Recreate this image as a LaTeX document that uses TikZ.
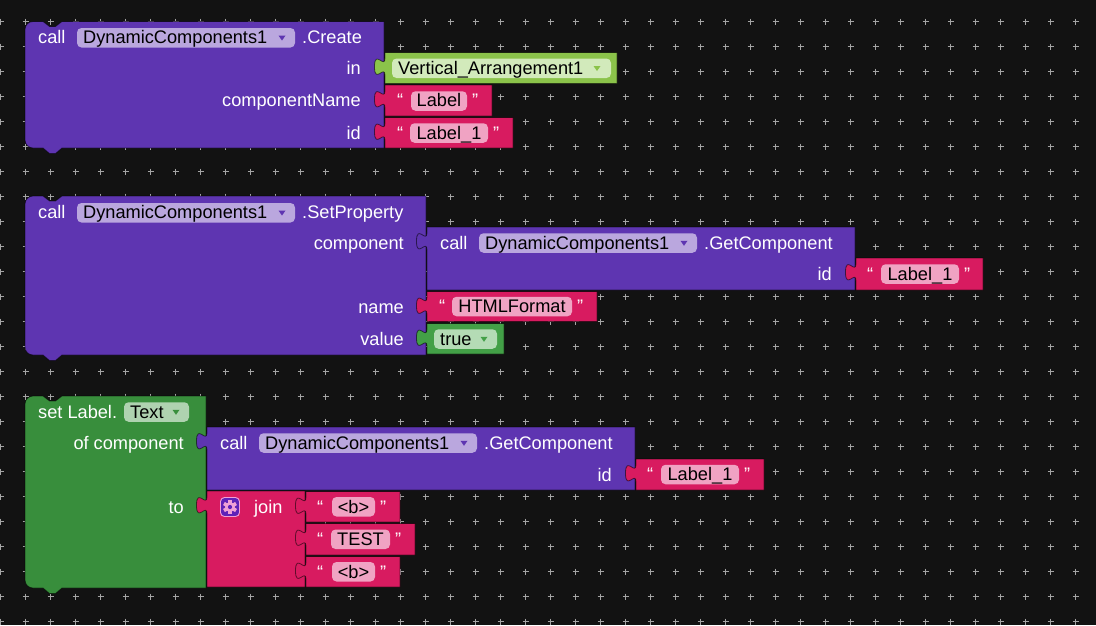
\documentclass[tikz,border=0pt]{standalone}
\usepackage{fontspec}
\setmainfont{Liberation Sans}
\definecolor{cbg}{HTML}{121212}
\definecolor{cdot}{HTML}{A4A4A4}
\definecolor{cpurple}{HTML}{5E35B1}
\definecolor{cppill}{HTML}{BAA7DE}
\definecolor{cpink}{HTML}{D81B60}
\definecolor{cpkpill}{HTML}{F0A3C3}
\definecolor{clgreen}{HTML}{8BC34A}
\definecolor{clgpill}{HTML}{D2EABB}
\definecolor{cgreen}{HTML}{388E3C}
\definecolor{cgpill}{HTML}{AFD2B0}
\definecolor{cgreen2}{HTML}{43A047}
\definecolor{cg2pill}{HTML}{B4DBB5}
\definecolor{cgearbox}{HTML}{5E22B8}
\definecolor{cgear}{HTML}{EFA0D6}
\newcommand\blkfont{\fontsize{18.2}{22}\selectfont}
\tikzset{
  blockedge/.style={draw=black, draw opacity=0.55, line width=0.8pt},
  wt/.style={text=white, font=\blkfont, inner sep=0pt},
  bt/.style={text=black, font=\blkfont, inner sep=0pt},
}
% statement block: color, x1, y1, x2, y2
\newcommand\stmtblk[5]{%
  \filldraw[fill=#1, blockedge] (#2,#3+8) .. controls (#2,#3+3.6) and (#2+3.6,#3) .. (#2+8,#3)
   -- (#2+18,#3) -- (#2+24.5,#3+5) -- (#2+30.5,#3+5) -- (#2+37,#3) -- (#4,#3) -- (#4,#5)
   -- (#2+37,#5) -- (#2+30.5,#5+5.5) -- (#2+24.5,#5+5.5) -- (#2+18,#5) -- (#2+8,#5)
   .. controls (#2+3.6,#5) and (#2,#5-3.6) .. (#2,#5-8) -- cycle;}
% value block with puzzle tab: color, x1, y1, x2, y2
\newcommand\valblk[5]{%
  \filldraw[fill=#1, blockedge] (#2,#3) -- (#4,#3) -- (#4,#5) -- (#2,#5) -- (#2,#3+23)
   .. controls (#2,#3+11.3) and (#2-10.5,#3+32.3) .. (#2-10.5,#3+14.25)
   .. controls (#2-10.5,#3-3.8) and (#2,#3+17.2) .. (#2,#3+5.5) -- cycle;}
% pill: color, x1, y1, x2, y2
\newcommand\pillbox[5]{\fill[#1, rounded corners=4.5pt] (#2,#3) rectangle (#4,#5);}
% dropdown triangle: color, x, y
\newcommand\ddtri[3]{\fill[#1] (#2-3.5,#3-2.2) -- (#2+3.5,#3-2.2) -- (#2,#3+2.8) -- cycle;}
\begin{document}
\begin{tikzpicture}[x=1pt, y=-1pt]
\useasboundingbox (0,0) rectangle (1096,625);
\fill[cbg] (0,0) rectangle (1096,625);
% grid of crosses
\foreach \i in {0,...,43}{
  \foreach \j in {0,...,24}{
    \draw[cdot, line width=1.5pt] (0.7+25*\i-3, 21.7+25*\j) -- ++(6,0)
      (0.7+25*\i, 21.7+25*\j-3) -- ++(0,6);
  }
}
% ================= Block 1 =================
\stmtblk{cpurple}{25}{21.5}{384}{148}
\valblk{clgreen}{385}{52.5}{617}{83.5}
\valblk{cpink}{385}{85}{492}{116}
\valblk{cpink}{385}{117.5}{513}{148}
\node[wt, anchor=base west] (b1call) at (38,43.8) {call};
\pillbox{cppill}{77}{28}{295}{47.5}
\node[bt, anchor=base west] (b1comp) at (83,43.8) {DynamicComponents1};
\ddtri{cpurple}{282}{37.75}
\node[wt, anchor=base west] (b1create) at (302,43.8) {.Create};
\node[wt, anchor=base east] (b1in) at (361,74.3) {in};
\node[wt, anchor=base east] (b1cn) at (361,106.8) {componentName};
\node[wt, anchor=base east] (b1id) at (361,139.3) {id};
\pillbox{clgpill}{392}{58.5}{611}{78}
\node[bt, anchor=base west] (b1va) at (398,74.5) {Vertical\_Arrangement1};
\ddtri{clgreen}{597}{68.2}
\node[wt, anchor=base west] (b1q1) at (397,106.8) {“};
\pillbox{cpkpill}{411}{91.25}{467}{110.75}
\node[bt, anchor=base] (b1label) at (439,106.8) {Label};
\node[wt, anchor=base west] (b1q2) at (472,106.8) {”};
\node[wt, anchor=base west] (b1q3) at (397,139.3) {“};
\pillbox{cpkpill}{410}{123.25}{488}{142.75}
\node[bt, anchor=base] (b1label1) at (449,139.3) {Label\_1};
\node[wt, anchor=base west] (b1q4) at (493,139.3) {”};
% ================= Block 2 =================
\stmtblk{cpurple}{25}{196}{426}{355}
\valblk{cpurple}{427}{227}{855}{290}
\valblk{cpink}{856}{258}{983}{290}
\valblk{cpink}{427}{291.5}{597}{321.5}
\valblk{cgreen2}{427}{323.5}{504}{354}
\node[wt, anchor=base west] (b2call) at (38,218.8) {call};
\pillbox{cppill}{77}{203}{295}{222.5}
\node[bt, anchor=base west] (b2comp) at (83,218.8) {DynamicComponents1};
\ddtri{cpurple}{282}{212.75}
\node[wt, anchor=base west] (b2set) at (302,218.8) {.SetProperty};
\node[wt, anchor=base east] (b2component) at (404,249.3) {component};
\node[wt, anchor=base east] (b2name) at (404,313) {name};
\node[wt, anchor=base east] (b2value) at (404,345.8) {value};
\node[wt, anchor=base west] (b2gccall) at (440,249.3) {call};
\pillbox{cppill}{479}{233.25}{697}{252.75}
\node[bt, anchor=base west] (b2gccomp) at (485,249.3) {DynamicComponents1};
\ddtri{cpurple}{684}{243}
\node[wt, anchor=base west] (b2gc) at (704,249.3) {.GetComponent};
\node[wt, anchor=base east] (b2id) at (832,280.3) {id};
\node[wt, anchor=base west] (b2q1) at (867,280.3) {“};
\pillbox{cpkpill}{881}{264.25}{959}{283.75}
\node[bt, anchor=base] (b2label1) at (920,280.3) {Label\_1};
\node[wt, anchor=base west] (b2q2) at (964,280.3) {”};
\node[wt, anchor=base west] (b2q3) at (439,312.8) {“};
\pillbox{cpkpill}{452}{296.75}{572}{316.25}
\node[bt, anchor=base] (b2html) at (512,312.8) {HTMLFormat};
\node[wt, anchor=base west] (b2q4) at (577,312.8) {”};
\pillbox{cg2pill}{434}{329.25}{497}{348.75}
\node[bt, anchor=base west] (b2true) at (440,345.3) {true};
\ddtri{cgreen2}{484}{339}
% ================= Block 3 =================
\stmtblk{cgreen}{25}{396}{206}{588}
\valblk{cpurple}{207}{427}{635}{490}
\valblk{cpink}{636}{459}{764}{490}
\valblk{cpink}{207}{491}{305}{587}
\valblk{cpink}{306}{491.5}{400}{522}
\valblk{cpink}{306}{523.5}{415}{555}
\valblk{cpink}{306}{556.5}{400}{587}
\node[wt, anchor=base west] (b3set) at (38,418.3) {set Label.};
\pillbox{cgpill}{124}{402.25}{189}{421.75}
\node[bt, anchor=base west] (b3text) at (130,418.3) {Text};
\ddtri{cgreen}{176}{412}
\node[wt, anchor=base east] (b3of) at (184,449.3) {of component};
\node[wt, anchor=base east] (b3to) at (184,513.3) {to};
\node[wt, anchor=base west] (b3call) at (220,449.3) {call};
\pillbox{cppill}{259}{433.25}{477}{452.75}
\node[bt, anchor=base west] (b3comp) at (265,449.3) {DynamicComponents1};
\ddtri{cpurple}{464}{443}
\node[wt, anchor=base west] (b3gc) at (484,449.3) {.GetComponent};
\node[wt, anchor=base east] (b3id) at (612,481.3) {id};
\node[wt, anchor=base west] (b3q1) at (647,480.8) {“};
\pillbox{cpkpill}{661}{464.75}{739}{484.25}
\node[bt, anchor=base] (b3label1) at (700,480.8) {Label\_1};
\node[wt, anchor=base west] (b3q2) at (744,480.8) {”};
% gear icon
\filldraw[fill=cgearbox, draw=cgear, line width=0.9pt, rounded corners=4pt] (220.5,497.5) rectangle (239.5,516.5);
\foreach \a in {0,60,...,300}{
  \fill[cgear, rotate around={\a:(230,507)}] (228.2,500) rectangle (231.8,503.5);
}
\fill[cgear] (230,507) circle (5);
\fill[cgearbox] (230,507) circle (2.1);
\node[wt, anchor=base west] (b3join) at (254,513.3) {join};
\node[wt, anchor=base west] (b3q3) at (317,513) {“};
\pillbox{cpkpill}{332}{497}{375}{516.5}
\node[bt, anchor=base] (b3b1) at (353.5,513) {<b>};
\node[wt, anchor=base west] (b3q4) at (380,513) {”};
\node[wt, anchor=base west] (b3q5) at (317,545.5) {“};
\pillbox{cpkpill}{331}{529.5}{390}{549}
\node[bt, anchor=base] (b3test) at (360.5,545.5) {TEST};
\node[wt, anchor=base west] (b3q6) at (395,545.5) {”};
\node[wt, anchor=base west] (b3q7) at (317,578) {“};
\pillbox{cpkpill}{332}{562}{375}{581.5}
\node[bt, anchor=base] (b3b2) at (353.5,578) {<b>};
\node[wt, anchor=base west] (b3q8) at (380,578) {”};
\end{tikzpicture}
\end{document}
